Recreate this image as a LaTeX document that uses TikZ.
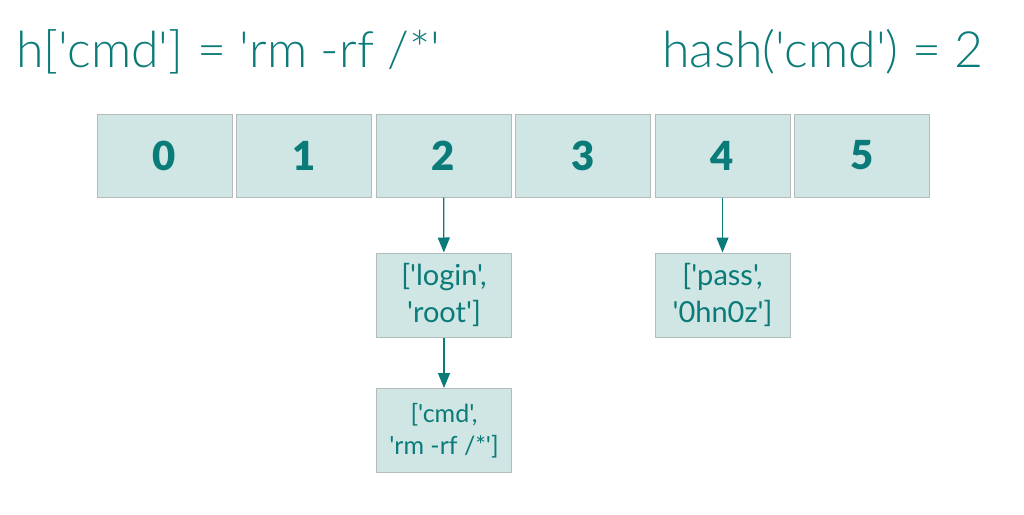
\documentclass[tikz,border=0pt]{standalone}
\usepackage{fontspec}
\setmainfont{Lato}
\newfontfamily\latoreg{Lato}
\newfontfamily\latolight{Lato Light}
\newfontfamily\latoblack{Lato Black}
\usetikzlibrary{arrows.meta}
\definecolor{teal1}{HTML}{0B7B79}
\definecolor{cellfill}{HTML}{CFE6E4}
\definecolor{cellline}{HTML}{B3BCBB}
\tikzset{
  cell/.style={draw=cellline, fill=cellfill, line width=1pt, minimum width=135pt, minimum height=83pt, inner sep=0pt, text=teal1, font=\latoblack\fontsize{40}{40}\selectfont},
  entry/.style={draw=cellline, fill=cellfill, line width=1pt, minimum width=135pt, minimum height=84pt, inner sep=0pt, align=center, text=teal1, font=\latoreg\fontsize{29}{37}\selectfont},
  entrysmall/.style={entry, font=\latoreg\fontsize{25}{32}\selectfont},
  title/.style={text=teal1, inner sep=0pt, font=\latolight\fontsize{50}{50}\selectfont},
  link/.style={draw=teal1, line width=1.3pt, -{Triangle[width=12pt,length=15pt]}}
}
\begin{document}
\begin{tikzpicture}[x=1pt,y=-1pt]
\useasboundingbox (0,0) rectangle (1024,514);
\node[title, anchor=base west] (t1) at (16,67) {h['cmd'] = 'rm -rf /*'};
\node[title, anchor=base east] (t2) at (984,67) {hash('cmd') = 2};
\foreach \i in {0,...,5} {
  \node[cell] (c\i) at ({164.5+\i*139.5},155.5) {\i};
}
\node[entry] (login) at (444,295) {['login',\\'root']};
\node[entrysmall] (cmd) at (444,430.5) {['cmd',\\'rm -rf /*']};
\node[entry] (pass) at (722.5,295) {['pass',\\'0hn0z']};
\draw[link] (c2) -- (login);
\draw[link] (login) -- (cmd);
\draw[link] (c4) -- (pass);
\end{tikzpicture}
\end{document}
